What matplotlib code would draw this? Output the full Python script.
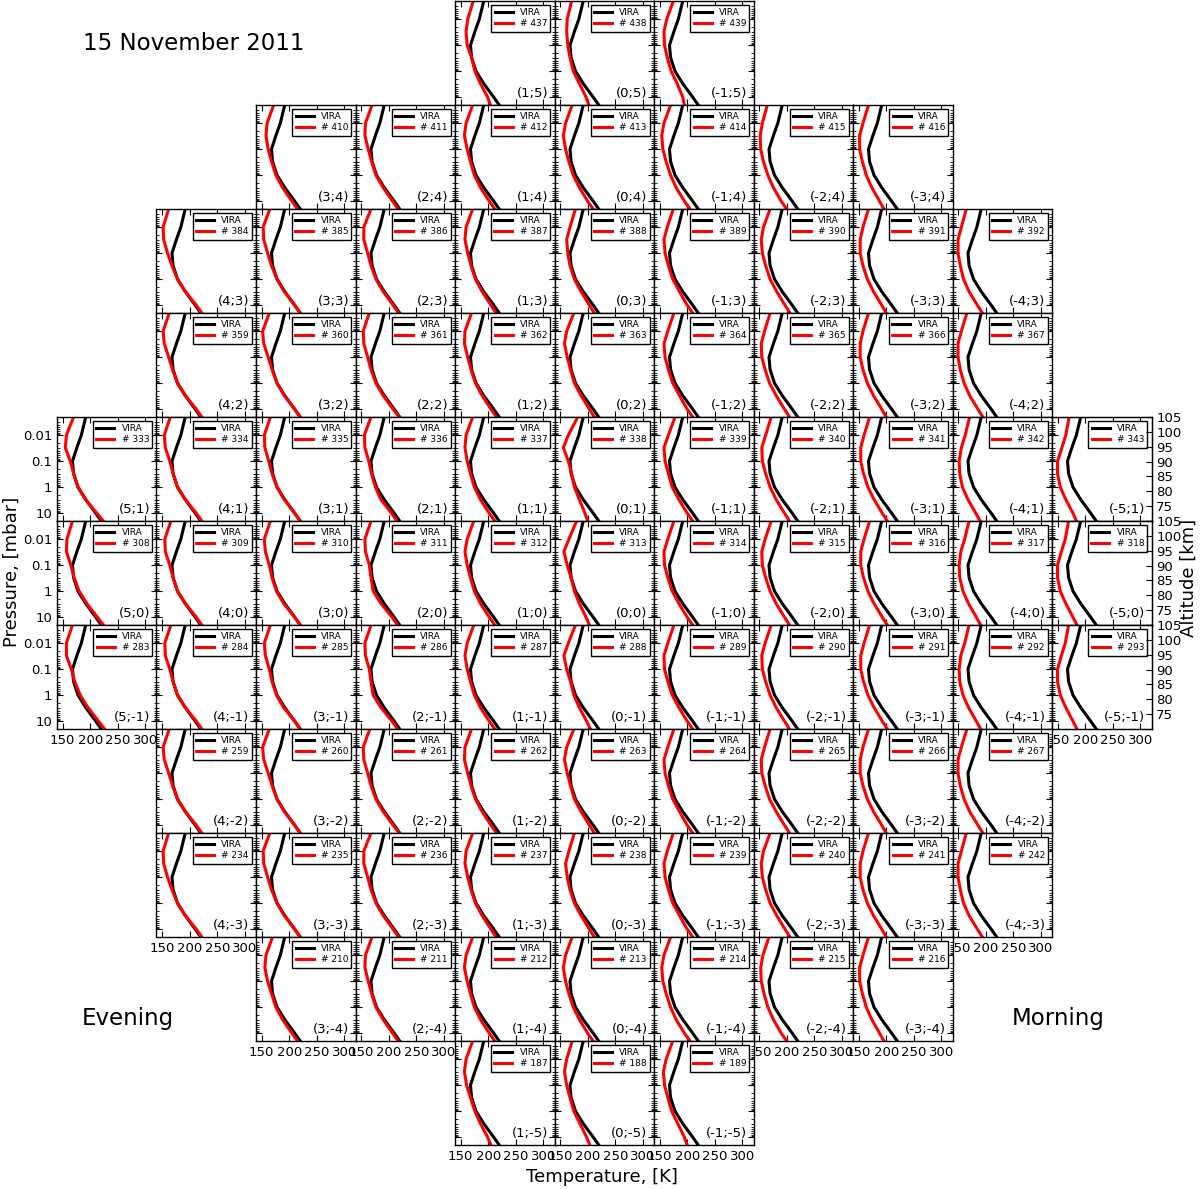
import matplotlib.pyplot as plt
from matplotlib.ticker import LogLocator, NullFormatter

plt.rcParams["font.family"] = "DejaVu Sans"

pressure = [0.002, 0.01, 0.03, 0.1, 0.3, 1, 3, 10, 20]
vira_t = [192, 184, 176, 168, 170, 178, 192, 210, 220]

row_j = [5, 4, 3, 2, 1, 0, -1, -2, -3, -4, -5]
row_imax = [1, 3, 4, 4, 5, 5, 5, 4, 4, 3, 1]
row_first_id = [437, 410, 384, 359, 333, 308, 283, 259, 234, 210, 187]

# retrieved temperature profiles [K], one list per panel, evening (left) to morning (right)
red_row_p5 = [
    [173, 163, 160, 162, 170, 176, 186, 199, 204],
    [171, 163, 162, 164, 168, 174, 185, 197, 202],
    [175, 163, 158, 159, 164, 171, 182, 192, 195],
]
red_row_p4 = [
    [172, 160, 158, 162, 168, 176, 188, 205, 215],
    [170, 158, 157, 163, 169, 177, 190, 207, 217],
    [172, 160, 157, 162, 168, 175, 186, 202, 212],
    [172, 160, 156, 160, 166, 174, 185, 200, 210],
    [170, 158, 154, 156, 162, 170, 180, 195, 205],
    [165, 156, 152, 153, 158, 166, 176, 190, 200],
    [168, 158, 152, 152, 157, 164, 174, 188, 196],
]
red_row_p3 = [
    [162, 152, 153, 160, 168, 178, 192, 212, 222],
    [165, 153, 154, 161, 168, 178, 191, 210, 220],
    [168, 155, 155, 162, 168, 177, 190, 208, 218],
    [172, 160, 158, 163, 169, 177, 189, 205, 214],
    [178, 168, 162, 164, 168, 176, 188, 203, 212],
    [175, 164, 158, 160, 166, 174, 186, 200, 210],
    [170, 158, 154, 156, 162, 170, 182, 197, 206],
    [168, 158, 153, 153, 158, 166, 177, 192, 200],
    [165, 156, 150, 150, 154, 160, 170, 185, 194],
]
red_row_p2 = [
    [163, 152, 154, 162, 169, 178, 192, 212, 222],
    [164, 152, 154, 162, 169, 178, 191, 210, 220],
    [165, 154, 155, 162, 168, 177, 190, 208, 219],
    [170, 158, 157, 163, 169, 177, 189, 205, 215],
    [175, 162, 158, 163, 169, 176, 188, 203, 212],
    [176, 165, 158, 160, 166, 174, 186, 200, 210],
    [170, 160, 154, 155, 161, 169, 181, 196, 205],
    [168, 158, 153, 153, 158, 166, 177, 192, 200],
    [166, 156, 150, 150, 154, 161, 171, 186, 195],
]
red_row_p1 = [
    [170, 157, 155, 164, 170, 178, 192, 212, 224],
    [165, 154, 156, 164, 170, 178, 192, 212, 222],
    [166, 155, 156, 163, 169, 178, 191, 210, 220],
    [168, 156, 157, 164, 169, 176, 186, 205, 215],
    [172, 160, 158, 162, 168, 175, 186, 202, 212],
    [182, 165, 156, 165, 171, 176, 185, 195, 200],
    [178, 166, 158, 160, 166, 173, 185, 200, 210],
    [172, 162, 155, 156, 162, 170, 181, 196, 205],
    [170, 160, 154, 154, 159, 167, 178, 193, 202],
    [171, 163, 156, 152, 153, 158, 168, 182, 190],
    [171, 165, 158, 150, 150, 155, 165, 178, 184],
]
red_row_0 = [
    [168, 158, 157, 165, 171, 180, 194, 213, 224],
    [166, 155, 156, 164, 170, 178, 192, 212, 222],
    [166, 155, 157, 164, 169, 177, 190, 210, 220],
    [168, 157, 158, 165, 168, 172, 186, 206, 216],
    [174, 162, 158, 162, 168, 175, 186, 202, 212],
    [180, 166, 157, 163, 170, 176, 185, 197, 203],
    [176, 165, 158, 159, 165, 173, 185, 200, 210],
    [172, 161, 155, 156, 162, 170, 181, 196, 205],
    [170, 160, 154, 154, 159, 167, 178, 193, 202],
    [170, 162, 155, 152, 153, 159, 169, 183, 191],
    [170, 164, 157, 150, 150, 155, 165, 178, 185],
]
red_row_m1 = [
    [168, 157, 157, 166, 172, 182, 196, 215, 226],
    [166, 155, 156, 164, 170, 178, 192, 212, 222],
    [166, 155, 157, 164, 169, 177, 190, 210, 220],
    [168, 157, 158, 165, 168, 172, 186, 206, 216],
    [174, 162, 158, 162, 168, 175, 186, 202, 212],
    [178, 165, 157, 162, 169, 175, 185, 198, 205],
    [176, 165, 158, 159, 165, 173, 185, 200, 210],
    [172, 161, 155, 156, 162, 170, 181, 196, 205],
    [170, 160, 154, 154, 159, 167, 178, 193, 202],
    [170, 162, 155, 152, 153, 159, 169, 183, 191],
    [170, 164, 157, 150, 150, 155, 165, 178, 185],
]
red_row_m2 = [
    [163, 152, 154, 162, 169, 178, 192, 212, 222],
    [164, 152, 154, 162, 169, 178, 191, 210, 220],
    [166, 154, 155, 162, 168, 177, 190, 208, 219],
    [170, 158, 157, 163, 169, 177, 189, 205, 215],
    [175, 162, 158, 163, 169, 176, 188, 203, 212],
    [176, 165, 158, 160, 166, 174, 186, 200, 210],
    [170, 160, 154, 155, 161, 169, 181, 196, 205],
    [168, 158, 153, 153, 158, 166, 177, 192, 200],
    [166, 156, 150, 150, 154, 161, 171, 186, 195],
]
red_row_m3 = [
    [162, 152, 153, 160, 168, 178, 192, 212, 222],
    [165, 153, 154, 161, 168, 178, 191, 210, 220],
    [168, 155, 155, 162, 168, 177, 190, 208, 218],
    [172, 160, 158, 163, 169, 177, 189, 205, 214],
    [176, 166, 160, 163, 168, 176, 188, 203, 212],
    [175, 164, 158, 160, 166, 174, 186, 200, 210],
    [170, 158, 154, 156, 162, 170, 182, 197, 206],
    [168, 158, 153, 153, 158, 166, 177, 192, 200],
    [165, 156, 150, 150, 154, 160, 170, 185, 194],
]
red_row_m4 = [
    [170, 158, 156, 161, 168, 176, 188, 205, 215],
    [170, 158, 157, 163, 169, 177, 190, 207, 217],
    [172, 160, 157, 162, 168, 175, 186, 202, 212],
    [172, 160, 156, 160, 166, 174, 185, 200, 210],
    [170, 158, 154, 156, 162, 170, 180, 195, 205],
    [168, 157, 153, 154, 159, 166, 176, 190, 200],
    [168, 158, 152, 152, 157, 164, 174, 188, 196],
]
red_row_m5 = [
    [172, 160, 157, 161, 168, 176, 186, 199, 205],
    [172, 162, 158, 162, 168, 175, 186, 198, 204],
    [174, 162, 157, 159, 165, 172, 183, 195, 200],
]
red_rows = [red_row_p5, red_row_p4, red_row_p3, red_row_p2, red_row_p1, red_row_0,
            red_row_m1, red_row_m2, red_row_m3, red_row_m4, red_row_m5]

temp_ticks = [150, 200, 250, 300]
p_ticks = [0.01, 0.1, 1, 10]
p_tick_labels = ["0.01", "0.1", "1", "10"]
alt_ticks = [75, 80, 85, 90, 95, 100, 105]

W, H = 1200, 1189
fig = plt.figure(figsize=(W / 100, H / 100), dpi=100)

x0, y0, pw, ph = 57, 1, 99.5, 104

# lowest panel in each column gets the temperature labels
col_bottom = {}
for j, imax in zip(row_j, row_imax):
    for i in range(imax, -imax - 1, -1):
        col_bottom[i] = j

for r, (j, imax, first_id, reds) in enumerate(zip(row_j, row_imax, row_first_id, red_rows)):
    for k, i in enumerate(range(imax, -imax - 1, -1)):
        left = x0 + (5 - i) * pw
        top = y0 + (5 - j) * ph
        ax = fig.add_axes([left / W, 1 - (top + ph) / H, pw / W, ph / H])
        ax.plot(vira_t, pressure, color="k", lw=2.2, label="VIRA")
        ax.plot(reds[k], pressure, color="r", lw=2.2, label=f"# {first_id + k}")
        ax.set_yscale("log")
        ax.set_ylim(20, 0.002)
        ax.set_xlim(140, 320)
        ax.set_xticks(temp_ticks)
        ax.set_yticks(p_ticks, p_tick_labels)
        ax.yaxis.set_minor_locator(LogLocator(base=10, subs=range(2, 10), numticks=30))
        ax.yaxis.set_minor_formatter(NullFormatter())
        ax.tick_params(which="both", direction="in", top=True, right=(i != -5),
                       labelleft=False, labelbottom=False, labelsize=9.5)
        ax.tick_params(which="major", length=4, width=0.8)
        ax.tick_params(which="minor", length=2.5, width=0.6)
        for s in ax.spines.values():
            s.set_linewidth(1.0)
        ax.legend(loc="upper right", fontsize=6.5, fancybox=False, edgecolor="k",
                  framealpha=1, handlelength=2.0, borderpad=0.35, labelspacing=0.25,
                  borderaxespad=0.45, handletextpad=0.8)
        ax.text(0.935, 0.05, f"({i};{j})", transform=ax.transAxes,
                ha="right", va="bottom", fontsize=9.5)
        if i == 5:
            ax.tick_params(labelleft=True)
        if col_bottom[i] == j:
            ax.tick_params(labelbottom=True)
        if i == -5:
            ax2 = ax.twinx()
            ax2.set_ylim(70, 105)
            ax2.set_yticks(alt_ticks)
            ax2.tick_params(direction="in", length=4, labelsize=9.5)

fig.text(83 / W, 1 - 44 / H, "15 November 2011", fontsize=16.5, va="center", ha="left")
fig.text(82 / W, 1 - 1018 / H, "Evening", fontsize=16.5, va="center", ha="left")
fig.text(1012 / W, 1 - 1018 / H, "Morning", fontsize=16.5, va="center", ha="left")
fig.text(12 / W, 1 - 572 / H, "Pressure, [mbar]", fontsize=13, rotation=90,
         va="center", ha="center")
fig.text(1189 / W, 1 - 578 / H, "Altitude [km]", fontsize=13, rotation=90,
         va="center", ha="center")
fig.text(602 / W, 1 - 1177 / H, "Temperature, [K]", fontsize=13, va="center", ha="center")

fig.savefig("out.png", dpi=100, facecolor="white")
